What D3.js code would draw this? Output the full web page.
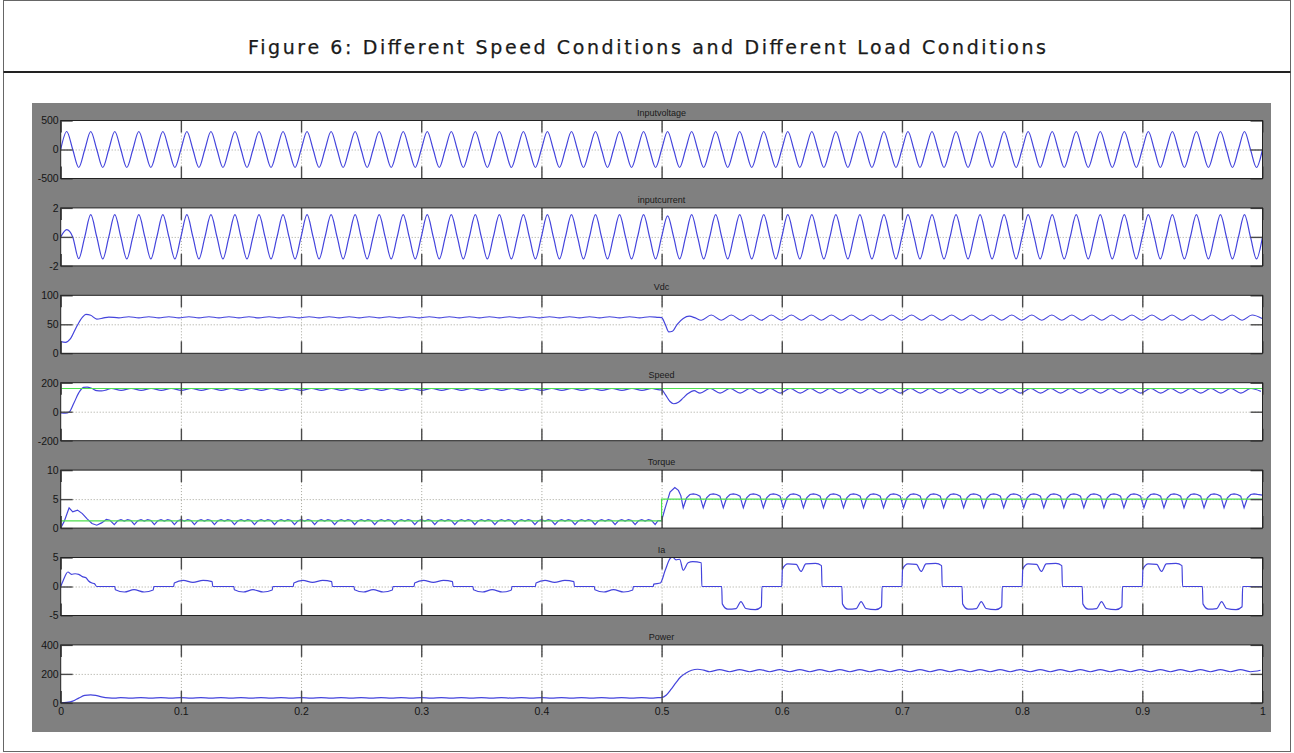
<!DOCTYPE html>
<html>
<head>
<meta charset="utf-8">
<script src="https://cdn.jsdelivr.net/npm/d3@7"></script>
<style>
body { margin: 0; background: #fff; }
</style>
</head>
<body>
<script>
// ---- chart values ----
const figTitle = "Figure 6: Different Speed Conditions and Different Load Conditions"
const panelTitles = ["Inputvoltage", "inputcurrent", "Vdc", "Speed", "Torque", "Ia", "Power"]
const yDomains = [[-500, 500], [-2, 2], [0, 100], [-200, 200], [0, 10], [-5, 5], [0, 400]]
const yTickVals = [[-500, 0, 500], [-2, 0, 2], [0, 50, 100], [-200, 0, 200], [0, 5, 10], [-5, 0, 5], [0, 200, 400]]
const xTickVals = [0, 0.1, 0.2, 0.3, 0.4, 0.5, 0.6, 0.7, 0.8, 0.9, 1]
const xTickLabels = ["0", "0.1", "0.2", "0.3", "0.4", "0.5", "0.6", "0.7", "0.8", "0.9", "1"]

// supply is 50 Hz: one peak per 0.01 s half cycle
const halfCycle = 0.01
const vinPeaks = [
  310,-310,310,-310,310,-310,310,-310,310,-310,
  310,-310,310,-310,310,-310,310,-310,310,-310,
  310,-310,310,-310,310,-310,310,-310,310,-310,
  310,-310,310,-310,310,-310,310,-310,310,-310,
  310,-310,310,-310,310,-310,310,-310,310,-310,
  310,-310,310,-310,310,-310,310,-310,310,-310,
  310,-310,310,-310,310,-310,310,-310,310,-310,
  310,-310,310,-310,310,-310,310,-310,310,-310,
  310,-310,310,-310,310,-310,310,-310,310,-310,
  310,-310,310,-310,310,-310,310,-310,310,-310]
const iinPeaks = [
  0.5,-1.5,1.53,-1.52,1.53,-1.52,1.53,-1.52,1.53,-1.52,
  1.53,-1.52,1.53,-1.52,1.53,-1.52,1.53,-1.52,1.53,-1.52,
  1.53,-1.52,1.53,-1.52,1.53,-1.52,1.53,-1.52,1.53,-1.52,
  1.53,-1.52,1.53,-1.52,1.53,-1.52,1.53,-1.52,1.53,-1.52,
  1.53,-1.52,1.53,-1.52,1.53,-1.52,1.53,-1.52,1.53,-1.52,
  1.45,-1.52,1.53,-1.52,1.53,-1.52,1.53,-1.52,1.53,-1.52,
  1.53,-1.52,1.53,-1.52,1.53,-1.52,1.53,-1.52,1.53,-1.52,
  1.53,-1.52,1.53,-1.52,1.53,-1.52,1.53,-1.52,1.53,-1.52,
  1.53,-1.52,1.53,-1.52,1.53,-1.52,1.53,-1.52,1.53,-1.52,
  1.53,-1.52,1.53,-1.52,1.53,-1.52,1.53,-1.52,1.53,-1.52]

// ripple parts are sampled at a fixed step
const ripStep = 1 / 120
const fineStep = 1 / 360

const vdcStart = [[0, 20], [0.004, 19], [0.008, 25], [0.013, 45], [0.018, 62], [0.021, 67], [0.025, 65.5], [0.03, 59], [0.035, 60.5]]
const vdcRippleA = [62.5,61.2,63,61.2,63,61.2,63,61.2,63,61.2,63,61.2,63,61.2,63,61.2,63,61.2,63,61.2,
  63,61.2,63,61.2,63,61.2,63,61.2,63,61.2,63,61.2,63,61.2,63,61.2,63,61.2,63,61.2,
  63,61.2,63,61.2,63,61.2,63,61.2,63,61.2,63,61.2,63,61.2,63]
const vdcStep = [[0.497, 62], [0.5, 61.5], [0.503, 50], [0.506, 37], [0.509, 38], [0.513, 50], [0.518, 60], [0.523, 64], [0.528, 61]]
const vdcRippleB = [57,66,57,66,57,66,57,66,57,66,57,66,57,66,57,66,57,66,57,66,
  57,66,57,66,57,66,57,66,57,66,57,66,57,66,57,66,57,66,57,66,
  57,66,57,66,57,66,57,66,57,66,57,66,57,66,57,66,60]

const spdRef = [[0, 160], [1, 160]]
const spdStart = [[0, -8], [0.004, -10], [0.007, -3], [0.011, 60], [0.015, 130], [0.019, 168], [0.022, 170], [0.026, 160], [0.03, 145], [0.034, 143], [0.038, 150]]
const spdRippleA = [160,147,160,147,160,147,160,147,160,147,160,147,160,147,160,147,160,147,160,147,
  160,147,160,147,160,147,160,147,160,147,160,147,160,147,160,147,160,147,160,147,
  160,147,160,147,160,147,160,147,160,147,160,147,160,147,160]
const spdStep = [[0.497, 152], [0.5, 150], [0.503, 120], [0.507, 70], [0.51, 55], [0.514, 65], [0.518, 95], [0.522, 125], [0.527, 145]]
const spdRippleB = [128,160,128,160,128,160,128,160,128,160,128,160,128,160,128,160,128,160,128,160,
  128,160,128,160,128,160,128,160,128,160,128,160,128,160,128,160,128,160,128,160,
  128,160,128,160,128,160,128,160,128,160,128,160,128,160,128,160,140]

const tqRef = [[0, 1.25], [0.5, 1.25], [0.5, 5], [1, 5]]
const tqStart = [[0, 0], [0.003, 1.2], [0.007, 3.5], [0.01, 2.8], [0.014, 3.1], [0.018, 2.5], [0.022, 1.6], [0.026, 0.8], [0.03, 0.5], [0.034, 0.9], [0.038, 1.5], [0.041, 1.35]]
const tqRippleA = [
  0.6,1.25,1.45,1.2,1.45,1.3, 0.6,1.25,1.45,1.2,1.45,1.3, 0.6,1.25,1.45,1.2,1.45,1.3,
  0.6,1.25,1.45,1.2,1.45,1.3, 0.6,1.25,1.45,1.2,1.45,1.3, 0.6,1.25,1.45,1.2,1.45,1.3,
  0.6,1.25,1.45,1.2,1.45,1.3, 0.6,1.25,1.45,1.2,1.45,1.3, 0.6,1.25,1.45,1.2,1.45,1.3,
  0.6,1.25,1.45,1.2,1.45,1.3, 0.6,1.25,1.45,1.2,1.45,1.3, 0.6,1.25,1.45,1.2,1.45,1.3,
  0.6,1.25,1.45,1.2,1.45,1.3, 0.6,1.25,1.45,1.2,1.45,1.3, 0.6,1.25,1.45,1.2,1.45,1.3,
  0.6,1.25,1.45,1.2,1.45,1.3, 0.6,1.25,1.45,1.2,1.45,1.3, 0.6,1.25,1.45,1.2,1.45,1.3,
  0.6,1.25,1.45,1.2,1.45,1.3, 0.6,1.25,1.45,1.2,1.45,1.3, 0.6,1.25,1.45,1.2,1.45,1.3,
  0.6,1.25,1.45,1.2,1.45,1.3, 0.6,1.25,1.45,1.2,1.45,1.3, 0.6,1.25,1.45,1.2,1.45,1.3,
  0.6,1.25,1.45,1.2,1.45,1.3, 0.6,1.25,1.45,1.2,1.45,1.3, 0.6,1.25,1.45,1.2,1.45,1.3,
  0.6]
const tqStep = [[0.497, 1.3], [0.5, 1.3], [0.503, 3.5], [0.507, 6.2], [0.511, 7], [0.514, 6.5], [0.516, 5.6]]
const tqRippleB = [
  3.5,5.2,5.8,5.9,5.8,5.5, 3.5,5.2,5.8,5.9,5.8,5.5, 3.5,5.2,5.8,5.9,5.8,5.5, 3.5,5.2,5.8,5.9,5.8,5.5,
  3.5,5.2,5.8,5.9,5.8,5.5, 3.5,5.2,5.8,5.9,5.8,5.5, 3.5,5.2,5.8,5.9,5.8,5.5, 3.5,5.2,5.8,5.9,5.8,5.5,
  3.5,5.2,5.8,5.9,5.8,5.5, 3.5,5.2,5.8,5.9,5.8,5.5, 3.5,5.2,5.8,5.9,5.8,5.5, 3.5,5.2,5.8,5.9,5.8,5.5,
  3.5,5.2,5.8,5.9,5.8,5.5, 3.5,5.2,5.8,5.9,5.8,5.5, 3.5,5.2,5.8,5.9,5.8,5.5, 3.5,5.2,5.8,5.9,5.8,5.5,
  3.5,5.2,5.8,5.9,5.8,5.5, 3.5,5.2,5.8,5.9,5.8,5.5, 3.5,5.2,5.8,5.9,5.8,5.5, 3.5,5.2,5.8,5.9,5.8,5.5,
  3.5,5.2,5.8,5.9,5.8,5.5, 3.5,5.2,5.8,5.9,5.8,5.5, 3.5,5.2,5.8,5.9,5.8,5.5, 3.5,5.2,5.8,5.9,5.8,5.5,
  3.5,5.2,5.8,5.9,5.8,5.5, 3.5,5.2,5.8,5.9,5.8,5.5, 3.5,5.2,5.8,5.9,5.8,5.5, 3.5,5.2,5.8,5.9,5.8,5.5,
  3.5,5.2,5.8,5.9,5.8]

const iaPoints = [
  [0, 0], [0.002, 1], [0.006, 2.5], [0.009, 2.1], [0.012, 2.2], [0.015, 2.1], [0.018, 1.7], [0.021, 1.5], [0.023, 1.0], [0.026, 0.6], [0.028, 0.5], [0.03, 0],
  [0.045, 0], [0.0455, -0.55], [0.053, -0.95], [0.061, -0.55], [0.0695, -0.95], [0.077, -0.6], [0.0775, 0],
  [0.094, 0], [0.0945, 0.6], [0.102, 1.05], [0.110, 0.7], [0.1185, 1.05], [0.126, 0.85], [0.1265, 0],
  [0.144, 0], [0.1445, -0.55], [0.152, -0.95], [0.160, -0.55], [0.1685, -0.95], [0.176, -0.6], [0.1765, 0],
  [0.1935, 0], [0.194, 0.6], [0.2015, 1.05], [0.2095, 0.7], [0.218, 1.05], [0.2255, 0.85], [0.226, 0],
  [0.244, 0], [0.2445, -0.55], [0.252, -0.95], [0.260, -0.55], [0.2685, -0.95], [0.276, -0.6], [0.2765, 0],
  [0.294, 0], [0.2945, 0.6], [0.302, 1.05], [0.310, 0.7], [0.3185, 1.05], [0.326, 0.85], [0.3265, 0],
  [0.343, 0], [0.3435, -0.55], [0.351, -0.95], [0.359, -0.55], [0.3675, -0.95], [0.375, -0.6], [0.3755, 0],
  [0.395, 0], [0.3955, 0.6], [0.403, 1.05], [0.411, 0.7], [0.4195, 1.05], [0.427, 0.85], [0.4275, 0],
  [0.444, 0], [0.4445, -0.55], [0.452, -0.95], [0.460, -0.55], [0.4685, -0.95], [0.476, -0.6], [0.4765, 0],
  [0.493, 0], [0.4935, 0.4], [0.499, 0.6], [0.503, 2.8], [0.507, 4.8], [0.509, 5.1], [0.512, 4.6], [0.515, 4.7], [0.518, 2.8], [0.522, 4.1], [0.526, 4.3], [0.533, 4.1], [0.5335, 0],
  [0.55, 0], [0.5505, -3], [0.555, -3.9], [0.562, -3.8], [0.566, -2.6], [0.57, -3.8], [0.578, -4], [0.583, -3.5], [0.5835, 0],
  [0.6, 0], [0.6005, 3], [0.605, 3.9], [0.612, 3.8], [0.616, 2.6], [0.62, 3.9], [0.628, 4], [0.633, 3.6], [0.6335, 0],
  [0.65, 0], [0.6505, -3], [0.655, -3.9], [0.662, -3.8], [0.666, -2.6], [0.67, -3.8], [0.678, -4], [0.683, -3.5], [0.6835, 0],
  [0.7, 0], [0.7005, 3], [0.705, 3.9], [0.712, 3.8], [0.716, 2.6], [0.72, 3.9], [0.728, 4], [0.733, 3.6], [0.7335, 0],
  [0.75, 0], [0.7505, -3], [0.755, -3.9], [0.762, -3.8], [0.766, -2.6], [0.77, -3.8], [0.778, -4], [0.783, -3.5], [0.7835, 0],
  [0.8, 0], [0.8005, 3], [0.805, 3.9], [0.812, 3.8], [0.816, 2.6], [0.82, 3.9], [0.828, 4], [0.833, 3.6], [0.8335, 0],
  [0.85, 0], [0.8505, -3], [0.855, -3.9], [0.862, -3.8], [0.866, -2.6], [0.87, -3.8], [0.878, -4], [0.883, -3.5], [0.8835, 0],
  [0.9, 0], [0.9005, 3], [0.905, 3.9], [0.912, 3.8], [0.916, 2.6], [0.92, 3.9], [0.928, 4], [0.933, 3.6], [0.9335, 0],
  [0.95, 0], [0.9505, -3], [0.955, -3.9], [0.962, -3.8], [0.966, -2.6], [0.97, -3.8], [0.978, -4], [0.983, -3.5], [0.9835, 0],
  [1, 0]]

const pwStart = [[0, 0], [0.005, 3], [0.01, 12], [0.015, 33], [0.02, 52], [0.025, 56], [0.03, 50], [0.035, 40], [0.04, 35], [0.045, 33]]
const pwRippleA = [37,33,37,33,37,33,37,33,37,33,37,33,37,33,37,33,37,33,37,33,
  37,33,37,33,37,33,37,33,37,33,37,33,37,33,37,33,37,33,37,33,
  37,33,37,33,37,33,37,33,37,33,37,33,37,33]
const pwStep = [[0.497, 36], [0.5, 37], [0.504, 55], [0.508, 95], [0.512, 140], [0.516, 180], [0.52, 205], [0.525, 225], [0.53, 232], [0.535, 226]]
const pwRippleB = [215,230,215,230,215,230,215,230,215,230,215,230,215,230,215,230,215,230,215,230,
  215,230,215,230,215,230,215,230,215,230,215,230,215,230,215,230,215,230,215,230,
  215,230,215,230,215,230,215,230,215,230,215,230,215,230,215,225]

// ---- helpers ----
const seq = (t0, dt, vals) => vals.map((v, i) => [t0 + i * dt, v])
function halfWaves(peaks) {
  const pts = []
  peaks.forEach((p, k) => {
    pts.push([k * halfCycle, 0], [k * halfCycle + halfCycle / 2, p])
  })
  pts.push([peaks.length * halfCycle, 0])
  return pts
}

const blue = "#4444dc"
const green = "#4ee04e"

const vdc = vdcStart.concat(seq(0.04, ripStep, vdcRippleA), vdcStep, seq(0.533, ripStep, vdcRippleB))
const spd = spdStart.concat(seq(0.042, ripStep, spdRippleA), spdStep, seq(0.532, ripStep, spdRippleB))
const tq = tqStart.concat(seq(0.0446, fineStep, tqRippleA), tqStep, seq(0.518, fineStep, tqRippleB), [[1, 5.7]])
const pw = pwStart.concat(seq(0.05, ripStep, pwRippleA), pwStep, seq(0.54, ripStep, pwRippleB))

const series = [
  [{ pts: halfWaves(vinPeaks), color: blue, curve: d3.curveMonotoneX }],
  [{ pts: halfWaves(iinPeaks), color: blue, curve: d3.curveMonotoneX }],
  [{ pts: vdc, color: blue, curve: d3.curveMonotoneX }],
  [{ pts: spd, color: blue, curve: d3.curveMonotoneX }, { pts: spdRef, color: green, curve: d3.curveLinear }],
  [{ pts: tq, color: blue, curve: d3.curveLinear }, { pts: tqRef, color: green, curve: d3.curveLinear }],
  [{ pts: iaPoints, color: blue, curve: d3.curveMonotoneX }],
  [{ pts: pw, color: blue, curve: d3.curveMonotoneX }]
]

// ---- layout ----
const W = 1294, H = 753
const plotL = 60.7, plotR = 1262.5
const top0 = 120.5, stepY = 87.4, ph = 58
const tick = 12

const svg = d3.select("body").append("svg")
  .attr("width", W)
  .attr("height", H)
  .style("font-family", "'Liberation Sans Narrow', 'Liberation Sans', Arial, sans-serif")

svg.append("rect")
  .attr("x", 3.5).attr("y", 0.5)
  .attr("width", 1287).attr("height", 751)
  .attr("fill", "none").attr("stroke", "#666")
svg.append("line")
  .attr("x1", 3.5).attr("x2", 1290.5)
  .attr("y1", 72).attr("y2", 72)
  .attr("stroke", "#222").attr("stroke-width", 2)
svg.append("text")
  .attr("x", 647).attr("y", 54)
  .attr("text-anchor", "middle")
  .attr("textLength", 798)
  .attr("lengthAdjust", "spacing")
  .style("font-family", "'DejaVu Sans', Verdana, sans-serif")
  .style("font-size", "19px")
  .attr("fill", "#1a1a1a")
  .attr("stroke", "#1a1a1a")
  .attr("stroke-width", 0.25)
  .text(figTitle)

svg.append("rect")
  .attr("x", 32).attr("y", 103)
  .attr("width", 1239).attr("height", 629)
  .attr("fill", "#808080")

const x = d3.scaleLinear().domain([0, 1]).range([plotL, plotR])
const gridX = xTickVals.slice(1, -1)

function styleTicks(sel, color, dash) {
  sel.select(".domain").remove()
  sel.selectAll(".tick line").attr("stroke", color).attr("stroke-width", dash ? 1 : 1.4).attr("stroke-dasharray", dash || null)
}

panelTitles.forEach((title, i) => {
  const top = top0 + i * stepY, bot = top + ph
  const y = d3.scaleLinear().domain(yDomains[i]).range([bot, top])
  const g = svg.append("g")

  g.append("clipPath").attr("id", "clip" + i)
    .append("rect").attr("x", plotL).attr("y", top).attr("width", plotR - plotL).attr("height", ph)

  g.append("rect")
    .attr("x", plotL).attr("y", top)
    .attr("width", plotR - plotL).attr("height", ph)
    .attr("fill", "#fff")

  // dotted grid
  g.append("g").attr("transform", `translate(0,${bot})`)
    .call(d3.axisBottom(x).tickValues(gridX).tickSize(-ph).tickFormat(""))
    .call(s => styleTicks(s, "#a4a49a", "1,2"))
  g.append("g").attr("transform", `translate(${plotL},0)`)
    .call(d3.axisLeft(y).tickValues([yTickVals[i][1]]).tickSize(-(plotR - plotL)).tickFormat(""))
    .call(s => styleTicks(s, "#a4a49a", "1,2"))

  // signals
  const line = d3.line().x(d => x(d[0])).y(d => y(d[1]))
  series[i].forEach(s => {
    g.append("path")
      .attr("clip-path", `url(#clip${i})`)
      .attr("d", line.curve(s.curve)(s.pts))
      .attr("fill", "none")
      .attr("stroke", s.color)
      .attr("stroke-width", 1.2)
  })

  // inward ticks on all four sides
  g.append("g").attr("transform", `translate(0,${top})`)
    .call(d3.axisTop(x).tickValues(xTickVals).tickSize(-tick).tickFormat(""))
    .call(s => styleTicks(s, "#4a4a4a"))
  g.append("g").attr("transform", `translate(0,${bot})`)
    .call(d3.axisBottom(x).tickValues(xTickVals).tickSize(-tick)
      .tickFormat(i === 6 ? (d, k) => xTickLabels[k] : "").tickPadding(5))
    .call(s => styleTicks(s, "#4a4a4a"))
    .call(s => s.selectAll("text").attr("fill", "#151515").style("font-size", "10.5px"))
  g.append("g").attr("transform", `translate(${plotR},0)`)
    .call(d3.axisRight(y).tickValues(yTickVals[i]).tickSize(-tick).tickFormat(""))
    .call(s => styleTicks(s, "#4a4a4a"))
  g.append("g").attr("transform", `translate(${plotL},0)`)
    .call(d3.axisLeft(y).tickValues(yTickVals[i]).tickSize(-tick).tickPadding(2).tickFormat(d => String(d)))
    .call(s => styleTicks(s, "#4a4a4a"))
    .call(s => s.selectAll("text").attr("fill", "#151515").style("font-size", "10.5px"))

  g.append("rect")
    .attr("x", plotL).attr("y", top)
    .attr("width", plotR - plotL).attr("height", ph)
    .attr("fill", "none").attr("stroke", "#222")

  g.append("text")
    .attr("x", (plotL + plotR) / 2).attr("y", top - 5)
    .attr("text-anchor", "middle")
    .style("font-size", "9px")
    .attr("fill", "#1a1a1a")
    .text(title)
})
</script>
</body>
</html>
